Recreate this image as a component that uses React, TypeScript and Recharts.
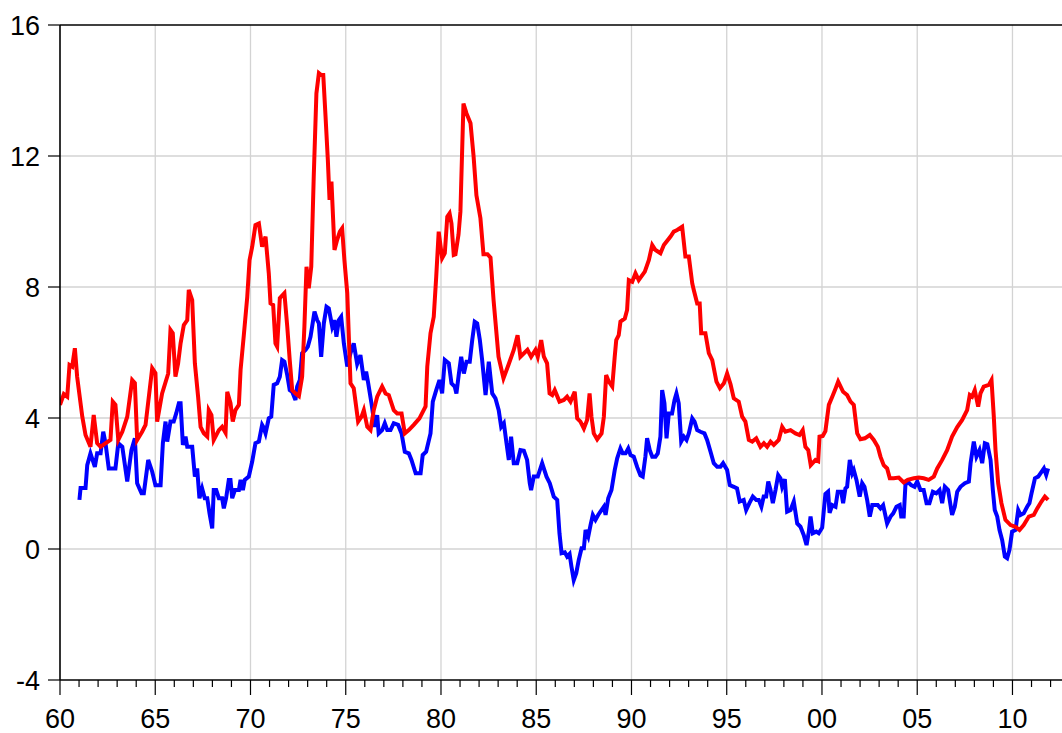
import React from 'react';
import { LineChart, Line, XAxis, YAxis, ReferenceLine } from 'recharts';

// red series: sampled vertices (decimal year, value)
const redDates = [
  1960.0, 1960.2, 1960.38, 1960.5, 1960.64, 1960.78, 1960.9, 1961.17, 1961.34, 1961.6, 1961.77, 1961.95,
  1962.13, 1962.39, 1962.65, 1962.77, 1962.91, 1963.06, 1963.27, 1963.53, 1963.79, 1963.93, 1964.05, 1964.31,
  1964.49, 1964.84, 1965.01, 1965.1, 1965.36, 1965.68, 1965.8, 1965.92, 1966.06, 1966.2, 1966.33, 1966.5,
  1966.68, 1966.76, 1966.94, 1967.08, 1967.25, 1967.38, 1967.55, 1967.73, 1967.81, 1967.95, 1968.07, 1968.34,
  1968.51, 1968.69, 1968.78, 1968.95, 1969.07, 1969.21, 1969.39, 1969.48, 1969.65, 1969.83, 1969.95, 1970.09,
  1970.26, 1970.44, 1970.61, 1970.79, 1970.96, 1971.05, 1971.19, 1971.31, 1971.4, 1971.54, 1971.78, 1971.93,
  1972.06, 1972.19, 1972.36, 1972.54, 1972.71, 1972.83, 1972.94, 1973.06, 1973.19, 1973.32, 1973.46, 1973.59,
  1973.71, 1973.82, 1973.94, 1974.06, 1974.15, 1974.25, 1974.34, 1974.41, 1974.55, 1974.69, 1974.81, 1974.93,
  1975.08, 1975.25, 1975.42, 1975.65, 1975.83, 1975.95, 1976.13, 1976.3, 1976.47, 1976.65, 1976.91, 1977.09,
  1977.26, 1977.52, 1977.7, 1977.93, 1978.1, 1978.31, 1978.57, 1978.87, 1979.19, 1979.28, 1979.45, 1979.62,
  1979.75, 1979.88, 1980.06, 1980.2, 1980.33, 1980.45, 1980.55, 1980.67, 1980.76, 1980.92, 1981.02, 1981.18,
  1981.34, 1981.55, 1981.71, 1981.86, 1982.07, 1982.23, 1982.44, 1982.6, 1982.76, 1983.02, 1983.28, 1983.54,
  1983.82, 1984.02, 1984.17, 1984.54, 1984.73, 1984.96, 1985.08, 1985.26, 1985.4, 1985.57, 1985.7, 1985.84,
  1985.97, 1986.22, 1986.45, 1986.62, 1986.8, 1987.02, 1987.15, 1987.32, 1987.5, 1987.67, 1987.8, 1987.9,
  1988.02, 1988.2, 1988.43, 1988.55, 1988.67, 1988.81, 1988.99, 1989.12, 1989.2, 1989.33, 1989.42, 1989.65,
  1989.77, 1989.86, 1990.04, 1990.21, 1990.38, 1990.7, 1990.91, 1991.09, 1991.26, 1991.52, 1991.7, 1992.05,
  1992.22, 1992.4, 1992.66, 1992.83, 1993.01, 1993.19, 1993.27, 1993.45, 1993.58, 1993.66, 1993.88, 1994.06,
  1994.24, 1994.46, 1994.64, 1994.85, 1995.02, 1995.2, 1995.37, 1995.63, 1995.81, 1995.98, 1996.16, 1996.34,
  1996.55, 1996.77, 1996.95, 1997.12, 1997.3, 1997.47, 1997.73, 1997.91, 1998.08, 1998.35, 1998.61, 1998.82,
  1998.99, 1999.13, 1999.28, 1999.41, 1999.66, 1999.8, 1999.87, 2000.04, 2000.18, 2000.36, 2000.54, 2000.72,
  2000.85, 2001.11, 2001.32, 2001.5, 2001.67, 2001.85, 2002.02, 2002.25, 2002.51, 2002.72, 2002.93, 2003.07,
  2003.24, 2003.42, 2003.56, 2003.77, 2004.03, 2004.29, 2004.5, 2004.82, 2005.08, 2005.34, 2005.6, 2005.87,
  2006.05, 2006.31, 2006.57, 2006.83, 2007.1, 2007.36, 2007.62, 2007.76, 2007.88, 2008.02, 2008.2, 2008.32,
  2008.49, 2008.76, 2008.9, 2009.02, 2009.11, 2009.25, 2009.42, 2009.63, 2009.9, 2010.16, 2010.37, 2010.59,
  2010.86, 2011.12, 2011.3, 2011.52, 2011.7, 2011.87,
];
const redValues = [
  4.4, 4.73, 4.65, 5.62, 5.57, 6.13, 5.26, 4.04, 3.48, 3.12, 4.09, 3.23,
  3.12, 3.23, 3.33, 4.5, 4.4, 3.33, 3.58, 4.04, 5.16, 5.07, 3.33, 3.58,
  3.79, 5.52, 5.37, 3.89, 4.75, 5.36, 6.69, 6.59, 5.26, 5.67, 6.28, 6.84,
  6.99, 7.91, 7.6, 5.67, 4.65, 3.73, 3.53, 3.43, 4.24, 4.09, 3.33, 3.63,
  3.73, 3.55, 4.8, 4.45, 3.89, 4.24, 4.4, 5.47, 6.53, 7.7, 8.82, 9.23,
  9.89, 9.94, 9.23, 9.54, 8.42, 7.5, 7.45, 6.28, 6.18, 7.66, 7.81, 6.79,
  5.77, 4.85, 4.75, 4.67, 5.26, 6.79, 8.62, 7.96, 8.62, 11.37, 13.91, 14.53,
  14.47, 14.47, 13.2, 11.88, 10.66, 11.22, 10.05, 9.13, 9.44, 9.69, 9.79, 8.82,
  7.81, 5.06, 4.91, 3.89, 4.04, 4.24, 3.73, 3.63, 4.24, 4.65, 4.96, 4.75,
  4.7, 4.24, 4.14, 4.14, 3.53, 3.63, 3.79, 3.99, 4.35, 5.57, 6.59, 7.09,
  8.32, 9.69, 8.88, 9.03, 10.15, 10.25, 9.94, 8.98, 9.0, 9.6, 10.3, 13.6,
  13.3, 13.0, 12.0, 10.8, 10.1, 9.0, 9.0, 8.9, 7.6, 5.87, 5.21, 5.62,
  6.08, 6.53, 5.87, 6.08, 5.87, 6.08, 5.87, 6.38, 5.87, 5.67, 4.75, 4.7,
  4.85, 4.5, 4.55, 4.65, 4.5, 4.8, 3.99, 3.89, 3.68, 3.94, 4.75, 4.04,
  3.53, 3.35, 3.53, 4.04, 5.31, 5.11, 4.96, 5.87, 6.38, 6.53, 6.94, 7.04,
  7.3, 8.21, 8.16, 8.42, 8.21, 8.47, 8.82, 9.28, 9.13, 9.03, 9.28, 9.54,
  9.69, 9.74, 9.84, 8.93, 8.93, 8.11, 7.91, 7.5, 7.5, 6.59, 6.59, 5.98,
  5.77, 5.11, 4.91, 5.06, 5.36, 5.03, 4.6, 4.5, 4.04, 3.89, 3.33, 3.28,
  3.38, 3.12, 3.23, 3.12, 3.28, 3.18, 3.33, 3.73, 3.58, 3.63, 3.53, 3.48,
  3.63, 3.12, 3.02, 2.56, 2.72, 2.68, 3.43, 3.45, 3.6, 4.4, 4.65, 4.91,
  5.11, 4.8, 4.7, 4.5, 4.4, 3.53, 3.35, 3.38, 3.48, 3.33, 3.12, 2.82,
  2.56, 2.46, 2.16, 2.16, 2.18, 2.03, 2.11, 2.16, 2.18, 2.16, 2.11, 2.21,
  2.46, 2.72, 3.02, 3.43, 3.72, 3.94, 4.24, 4.7, 4.65, 4.85, 4.35, 4.75,
  4.96, 5.01, 5.16, 4.04, 3.02, 2.01, 1.4, 0.89, 0.73, 0.68, 0.58, 0.73,
  0.99, 1.04, 1.24, 1.45, 1.6, 1.5,
];

// blue series
const blueDates = [
  1961.02, 1961.08, 1961.34, 1961.43, 1961.6, 1961.83, 1961.95, 1962.13, 1962.27, 1962.39, 1962.56, 1962.91,
  1963.06, 1963.27, 1963.53, 1963.75, 1963.93, 1964.05, 1964.28, 1964.4, 1964.63, 1964.84, 1965.01, 1965.28,
  1965.4, 1965.54, 1965.63, 1965.8, 1965.97, 1966.1, 1966.24, 1966.33, 1966.45, 1966.59, 1966.68, 1966.94,
  1967.08, 1967.2, 1967.32, 1967.46, 1967.6, 1967.73, 1967.85, 1967.99, 1968.07, 1968.2, 1968.34, 1968.51,
  1968.6, 1968.72, 1968.86, 1968.95, 1969.04, 1969.18, 1969.39, 1969.48, 1969.6, 1969.7, 1969.91, 1970.09,
  1970.26, 1970.44, 1970.61, 1970.67, 1970.79, 1970.96, 1971.09, 1971.22, 1971.4, 1971.54, 1971.66, 1971.78,
  1971.93, 1972.06, 1972.19, 1972.36, 1972.45, 1972.59, 1972.71, 1972.89, 1973.01, 1973.15, 1973.36, 1973.5,
  1973.59, 1973.71, 1973.85, 1973.99, 1974.11, 1974.29, 1974.41, 1974.51, 1974.64, 1974.76, 1974.9, 1975.08,
  1975.25, 1975.42, 1975.6, 1975.77, 1975.95, 1976.07, 1976.18, 1976.35, 1976.53, 1976.65, 1976.73, 1976.91,
  1977.05, 1977.18, 1977.35, 1977.52, 1977.75, 1977.93, 1978.1, 1978.31, 1978.45, 1978.67, 1978.93, 1979.04,
  1979.22, 1979.45, 1979.57, 1979.75, 1979.92, 1980.06, 1980.2, 1980.41, 1980.55, 1980.72, 1980.81, 1980.93,
  1981.06, 1981.2, 1981.34, 1981.51, 1981.64, 1981.77, 1981.9, 1982.04, 1982.16, 1982.34, 1982.51, 1982.69,
  1982.86, 1983.03, 1983.16, 1983.3, 1983.44, 1983.56, 1983.68, 1983.82, 1984.0, 1984.17, 1984.35, 1984.52,
  1984.66, 1984.73, 1984.87, 1985.08, 1985.31, 1985.54, 1985.71, 1985.92, 1986.1, 1986.22, 1986.33, 1986.5,
  1986.62, 1986.75, 1986.85, 1986.97, 1987.1, 1987.23, 1987.38, 1987.5, 1987.59, 1987.73, 1987.85, 1987.97,
  1988.11, 1988.25, 1988.37, 1988.55, 1988.64, 1988.78, 1988.95, 1989.12, 1989.25, 1989.42, 1989.54, 1989.69,
  1989.83, 1989.95, 1990.12, 1990.3, 1990.47, 1990.59, 1990.73, 1990.82, 1990.96, 1991.09, 1991.26, 1991.38,
  1991.52, 1991.61, 1991.73, 1991.84, 1991.96, 1992.13, 1992.26, 1992.36, 1992.48, 1992.61, 1992.75, 1992.89,
  1993.01, 1993.19, 1993.31, 1993.45, 1993.62, 1993.83, 1993.97, 1994.15, 1994.32, 1994.5, 1994.67, 1994.81,
  1995.02, 1995.16, 1995.37, 1995.54, 1995.68, 1995.89, 1996.02, 1996.19, 1996.37, 1996.55, 1996.68, 1996.82,
  1996.94, 1997.07, 1997.18, 1997.3, 1997.42, 1997.56, 1997.7, 1997.82, 1997.91, 1998.05, 1998.17, 1998.35,
  1998.52, 1998.7, 1998.87, 1999.04, 1999.19, 1999.31, 1999.4, 1999.52, 1999.7, 1999.83, 2000.01, 2000.18,
  2000.32, 2000.4, 2000.54, 2000.71, 2000.83, 2001.01, 2001.11, 2001.23, 2001.32, 2001.46, 2001.59, 2001.67,
  2001.81, 2001.98, 2002.11, 2002.23, 2002.37, 2002.51, 2002.64, 2002.76, 2002.93, 2003.07, 2003.21, 2003.42,
  2003.6, 2003.74, 2003.91, 2004.08, 2004.16, 2004.29, 2004.38, 2004.5, 2004.68, 2004.86, 2005.0, 2005.17,
  2005.34, 2005.49, 2005.64, 2005.82, 2006.0, 2006.17, 2006.31, 2006.45, 2006.62, 2006.83, 2006.97, 2007.1,
  2007.27, 2007.5, 2007.71, 2007.8, 2007.97, 2008.11, 2008.27, 2008.41, 2008.55, 2008.68, 2008.85, 2008.97,
  2009.07, 2009.2, 2009.32, 2009.46, 2009.6, 2009.72, 2009.84, 2009.98, 2010.16, 2010.3, 2010.42, 2010.59,
  2010.77, 2010.89, 2011.0, 2011.18, 2011.35, 2011.47, 2011.65, 2011.77, 2011.87,
];
const blueValues = [
  1.5, 1.86, 1.86, 2.56, 2.92, 2.51, 2.92, 2.92, 3.58, 3.23, 2.46, 2.46,
  3.23, 3.12, 2.06, 3.02, 3.38, 2.01, 1.7, 1.7, 2.72, 2.36, 1.95, 1.95,
  3.23, 3.89, 3.28, 3.89, 3.89, 4.14, 4.45, 4.45, 3.18, 3.43, 3.12, 3.12,
  2.21, 2.46, 1.55, 1.85, 1.55, 1.55, 1.09, 0.63, 1.8, 1.8, 1.55, 1.55,
  1.24, 1.55, 2.11, 2.11, 1.55, 1.8, 1.8, 2.11, 1.8, 2.11, 2.21, 2.67,
  3.23, 3.28, 3.79, 3.73, 3.53, 3.99, 4.04, 5.01, 5.06, 5.26, 5.77, 5.72,
  5.31, 4.85, 4.8, 4.55, 4.96, 5.16, 5.98, 6.08, 6.18, 6.48, 7.25, 6.99,
  6.89, 5.87, 6.89, 7.4, 7.35, 6.79, 6.99, 6.48, 6.99, 7.09, 6.28, 5.57,
  5.98, 6.28, 5.65, 5.92, 5.16, 5.42, 5.06, 4.45, 3.73, 4.09, 3.53, 3.63,
  3.84, 3.63, 3.63, 3.84, 3.79, 3.53, 2.97, 2.92, 2.72, 2.31, 2.31, 2.87,
  2.97, 3.53, 4.5, 4.85, 5.16, 4.75, 5.77, 5.67, 5.06, 4.96, 4.75, 5.31,
  5.87, 5.36, 5.72, 5.72, 6.38, 6.94, 6.89, 6.38, 5.77, 4.7, 5.72, 4.75,
  4.6, 4.24, 3.73, 3.84, 3.23, 2.72, 3.43, 2.62, 2.62, 3.02, 3.0, 2.72,
  2.01, 1.8, 2.21, 2.21, 2.62, 2.21, 2.01, 1.6, 1.5, 0.48, -0.13, -0.1,
  -0.23, -0.15, -0.54, -0.95, -0.74, -0.34, 0.02, 0.02, 0.58, 0.38, 0.73, 1.04,
  0.89, 1.04, 1.14, 1.29, 1.04, 1.55, 1.8, 2.41, 2.77, 3.07, 2.92, 2.92,
  3.07, 2.87, 2.82, 2.5, 2.25, 2.21, 2.82, 3.38, 3.02, 2.82, 2.82, 2.92,
  3.43, 4.85, 4.45, 3.38, 4.14, 4.14, 4.55, 4.75, 4.45, 3.28, 3.43, 3.33,
  3.53, 3.99, 3.89, 3.63, 3.58, 3.53, 3.33, 2.97, 2.62, 2.51, 2.51, 2.62,
  2.41, 1.95, 1.9, 1.85, 1.45, 1.5, 1.19, 1.4, 1.6, 1.5, 1.5, 1.29,
  1.6, 1.6, 2.06, 1.8, 1.4, 1.8, 2.26, 2.16, 1.9, 2.13, 1.14, 1.19,
  1.45, 0.78, 0.68, 0.43, 0.12, 0.53, 0.99, 0.48, 0.53, 0.48, 0.65, 1.68,
  1.75, 1.1, 1.34, 1.29, 1.75, 1.75, 1.4, 1.85, 1.9, 2.72, 2.31, 2.41,
  2.11, 1.6, 2.01, 1.9, 1.5, 0.99, 1.34, 1.34, 1.34, 1.24, 1.34, 0.78,
  0.99, 1.09, 1.29, 1.34, 0.99, 0.99, 1.95, 2.06, 1.95, 1.9, 2.06, 1.8,
  1.8, 1.4, 1.4, 1.75, 1.7, 1.8, 1.4, 1.9, 1.8, 1.04, 1.29, 1.75,
  1.9, 2.01, 2.06, 2.62, 3.28, 2.82, 3.02, 2.62, 3.23, 3.2, 2.72, 1.8,
  1.19, 0.99, 0.58, 0.27, -0.23, -0.28, -0.03, 0.53, 0.58, 1.19, 1.04, 1.09,
  1.29, 1.4, 1.7, 2.16, 2.21, 2.31, 2.46, 2.26, 2.46,
];

const yTicks = [-4, 0, 4, 8, 12, 16];
const yGrid = [0, 4, 8, 12];
const xGrid = [1965, 1970, 1975, 1980, 1985, 1990, 1995, 2000, 2005, 2010];
const xTicks = Array.from({ length: 53 }, (_, i) => 1960 + i);

const redData = redDates.map((t, i) => ({ t, v: redValues[i] }));
const blueData = blueDates.map((t, i) => ({ t, v: blueValues[i] }));

const FONT = '"Liberation Sans", Arial, sans-serif';

const YearTick = ({ x, y, payload }: any) => {
  const yr = payload.value;
  const major = yr % 5 === 0;
  return (
    <g>
      <line x1={x} x2={x} y1={y} y2={y + (major ? 15 : 7)} stroke="#000" strokeWidth={1.2} />
      {major && (
        <text x={x} y={y + 48} textAnchor="middle" fontSize={27} fontFamily={FONT} fill="#000">
          {String(yr % 100).padStart(2, '0')}
        </text>
      )}
    </g>
  );
};

export default function App() {
  return (
    <div style={{ position: 'absolute', left: 0, top: 0, background: '#fff' }}>
      <LineChart width={1062} height={733} margin={{ top: 25, right: 0, left: 0, bottom: 0 }}>
        <XAxis
          dataKey="t"
          type="number"
          domain={[1960, 2012.6]}
          ticks={xTicks}
          interval={0}
          height={53}
          tickSize={0}
          tickMargin={0}
          tickLine={false}
          axisLine={{ stroke: '#000', strokeWidth: 1.6 }}
          tick={<YearTick />}
          allowDataOverflow
        />
        <YAxis
          type="number"
          domain={[-4, 16]}
          ticks={yTicks}
          interval={0}
          width={60}
          tickSize={12}
          tickMargin={8}
          tickLine={{ stroke: '#000', strokeWidth: 1.2 }}
          axisLine={{ stroke: '#000', strokeWidth: 1.6 }}
          tick={{ fontSize: 27, fill: '#000', fontFamily: FONT }}
          allowDataOverflow
        />
        {yGrid.map((v) => (
          <ReferenceLine key={`gy${v}`} y={v} stroke="#d3d3d3" strokeWidth={1.3} />
        ))}
        {xGrid.map((v) => (
          <ReferenceLine key={`gx${v}`} x={v} stroke="#d3d3d3" strokeWidth={1.3} />
        ))}
        <ReferenceLine y={16} stroke="#000" strokeWidth={1.6} />
        <Line
          data={blueData}
          dataKey="v"
          type="linear"
          stroke="#0000ff"
          strokeWidth={4}
          dot={false}
          isAnimationActive={false}
        />
        <Line
          data={redData}
          dataKey="v"
          type="linear"
          stroke="#ff0000"
          strokeWidth={4}
          dot={false}
          isAnimationActive={false}
        />
      </LineChart>
    </div>
  );
}
